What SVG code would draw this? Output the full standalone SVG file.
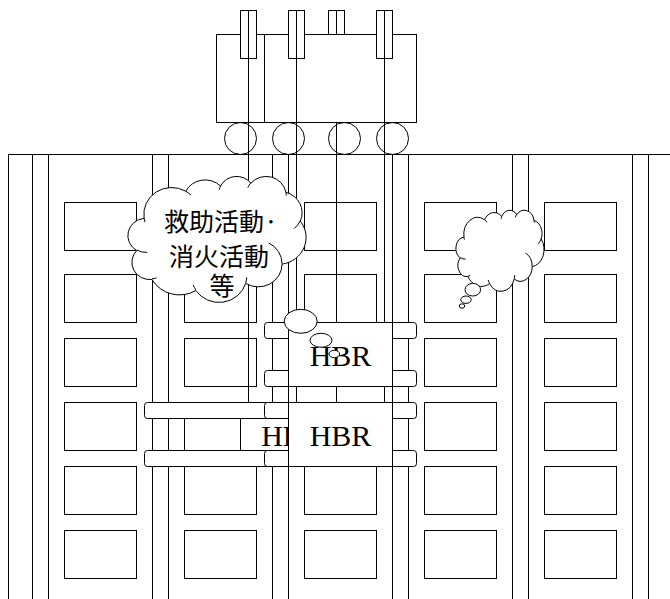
<svg xmlns="http://www.w3.org/2000/svg" width="670" height="599" viewBox="0 0 670 599">
  <defs>
    <style>
      .ln { stroke: #000; stroke-width: 1; fill: none; }
      .wb { stroke: #000; stroke-width: 1; fill: #fff; }
      .hbr { font-family: "Liberation Serif", "Times New Roman", serif; font-size: 30px; fill: #000; text-anchor: middle; }
      .jp { font-family: "Noto Sans CJK JP", "Noto Sans CJK SC", sans-serif; font-size: 25px; fill: #000; text-anchor: middle; }
    </style>
    <!-- cloud outline in a 43200 x 43200 box -->
    <path id="cloudShape" fill="#fff" stroke="#000" stroke-width="1" vector-effect="non-scaling-stroke" d="M3900 14370 A6753 9190 0 0 1 14005.5 5202.6 A5333 7267 0 0 1 22457.8 3432.8 A4365 5945 0 0 1 29835 2480.3 A4857 6595 0 0 1 38320.5 5575.2 A5333 7273 0 0 1 41820.9 15459.1 A6775 9220 0 0 1 37407.5 30203.1 A5785 7867 0 0 1 28558.9 36813.1 A6752 9215 0 0 1 16483.8 39265.7 A7720 10543 0 0 1 5807.3 35472.9 A4360 5918 0 0 1 2114.3 25553.8 A4345 5945 0 0 1 3864.8 14510.7 Z"/>
    <!-- inner crease arcs of the cloud -->
    <path id="cloudCreases" fill="none" stroke="#000" stroke-width="1" vector-effect="non-scaling-stroke" d="M4693 26177 A4345 5945 0 0 1 2159.2 25379.5 M6928 34899 A4360 5918 0 0 1 5819.5 35280.5 M16478 39090 A6752 9215 0 0 1 15809.7 37348.8 M28827 34751 A6752 9215 0 0 1 28560.5 36659.6 M34129 22954 A5785 7867 0 0 1 37380.6 30089.8 M41798 15354 A5333 7273 0 0 1 40349.1 18030.9 M38324 5426 A4857 6595 0 0 1 38400.4 6689.5 M29078 3952 A4857 6595 0 0 1 29818.9 2341.8 M22141 4720 A4365 5945 0 0 1 22499.9 3330.8 M14000 5192 A6753 9190 0 0 1 15301.6 6542.8 M4127 15789 A6753 9190 0 0 1 3900.4 14371.2"/>
    <!-- the back gondola is partly hidden by the front one -->
    <clipPath id="behindFront">
      <rect x="0" y="0" width="288" height="599"/>
    </clipPath>
  </defs>

  <rect width="670" height="599" fill="#fff"/>

  <!-- building facade -->
  <g id="building">
    <path class="ln" d="M8.5 154.5 H670 M8.5 154.5 V599
      M32.5 154.5 V599 M48.5 154.5 V599
      M152.5 154.5 V599 M168.5 154.5 V599
      M272.5 154.5 V599 M288.5 154.5 V599
      M392.5 154.5 V599 M408.5 154.5 V599
      M512.5 154.5 V599 M528.5 154.5 V599
      M632.5 154.5 V599 M648.5 154.5 V599"/>
    <g id="windows" class="ln">
      <rect x="64.5" y="202.5" width="72" height="48"/><rect x="184.5" y="202.5" width="72" height="48"/><rect x="304.5" y="202.5" width="72" height="48"/><rect x="424.5" y="202.5" width="72" height="48"/><rect x="544.5" y="202.5" width="72" height="48"/>
      <rect x="64.5" y="274.5" width="72" height="48"/><rect x="184.5" y="274.5" width="72" height="48"/><rect x="304.5" y="274.5" width="72" height="48"/><rect x="424.5" y="274.5" width="72" height="48"/><rect x="544.5" y="274.5" width="72" height="48"/>
      <rect x="64.5" y="338.5" width="72" height="48"/><rect x="184.5" y="338.5" width="72" height="48"/><rect x="304.5" y="338.5" width="72" height="48"/><rect x="424.5" y="338.5" width="72" height="48"/><rect x="544.5" y="338.5" width="72" height="48"/>
      <rect x="64.5" y="402.5" width="72" height="48"/><rect x="184.5" y="402.5" width="72" height="48"/><rect x="304.5" y="402.5" width="72" height="48"/><rect x="424.5" y="402.5" width="72" height="48"/><rect x="544.5" y="402.5" width="72" height="48"/>
      <rect x="64.5" y="466.5" width="72" height="48"/><rect x="184.5" y="466.5" width="72" height="48"/><rect x="304.5" y="466.5" width="72" height="48"/><rect x="424.5" y="466.5" width="72" height="48"/><rect x="544.5" y="466.5" width="72" height="48"/>
      <rect x="64.5" y="530.5" width="72" height="48"/><rect x="184.5" y="530.5" width="72" height="48"/><rect x="304.5" y="530.5" width="72" height="48"/><rect x="424.5" y="530.5" width="72" height="48"/><rect x="544.5" y="530.5" width="72" height="48"/>
    </g>
  </g>

  <!-- roof winch unit -->
  <g id="winch">
    <rect class="wb" x="216.5" y="34.5" width="48" height="88"/>
    <rect class="wb" x="264.5" y="34.5" width="152" height="88"/>
    <rect class="wb" x="240.5" y="10.5" width="16" height="48"/>
    <rect class="wb" x="288.5" y="10.5" width="16" height="48"/>
    <rect class="wb" x="328.5" y="10.5" width="16" height="24"/>
    <rect class="wb" x="376.5" y="10.5" width="16" height="48"/>
    <circle class="ln" cx="240.5" cy="138.5" r="16"/>
    <circle class="ln" cx="288.5" cy="138.5" r="16"/>
    <circle class="ln" cx="344.5" cy="138.5" r="16"/>
    <circle class="ln" cx="392.5" cy="138.5" r="16"/>
  </g>

  <!-- suspension wires -->
  <g id="wires" class="ln">
    <path d="M248.5 10.5 V402.5 M296.5 10.5 V402.5 M336.5 10.5 V34.5 M336.5 122.5 V402.5 M384.5 10.5 V402.5"/>
  </g>

  <!-- gondola behind, lower left -->
  <g id="hbr-lower-left">
    <rect class="wb" x="240.5" y="402.5" width="104" height="64"/>
    <text class="hbr" x="292" y="445.5" clip-path="url(#behindFront)">HBR</text>
    <rect class="wb" x="144.5" y="402.5" width="224" height="16" rx="3"/>
    <rect class="wb" x="144.5" y="450.5" width="224" height="16" rx="3"/>
  </g>

  <!-- gondola, lower right -->
  <g id="hbr-lower">
    <rect class="wb" x="264.5" y="402.5" width="152" height="16" rx="3"/>
    <rect class="wb" x="264.5" y="450.5" width="152" height="16" rx="3"/>
    <rect class="wb" x="288.5" y="402.5" width="104" height="64"/>
    <text class="hbr" x="340.5" y="445.5">HBR</text>
  </g>

  <!-- gondola, upper -->
  <g id="hbr-upper">
    <rect class="wb" x="264.5" y="322.5" width="152" height="16" rx="3"/>
    <rect class="wb" x="264.5" y="370.5" width="152" height="16" rx="3"/>
    <rect class="wb" x="288.5" y="322.5" width="104" height="64"/>
    <text class="hbr" x="340.5" y="366">HBR</text>
  </g>

  <!-- thought cloud with label -->
  <g id="cloud-rescue">
    <g transform="translate(128 176) scale(0.0041204 0.0029167)">
      <use href="#cloudShape"/>
      <use href="#cloudCreases"/>
    </g>
    <ellipse class="wb" cx="300.7" cy="321.3" rx="16.5" ry="12"/>
    <ellipse class="wb" cx="321" cy="340.3" rx="11" ry="7"/>
    <ellipse class="wb" cx="334.3" cy="354" rx="5.3" ry="3.7"/>
    <text class="jp" x="221" y="231">救助活動·</text>
    <text class="jp" x="219" y="266">消火活動</text>
    <text class="jp" x="222" y="295">等</text>
  </g>

  <!-- empty thought cloud -->
  <g id="cloud-empty">
    <g transform="translate(456 210) scale(0.002037 0.001875)">
      <use href="#cloudShape"/>
      <use href="#cloudCreases"/>
    </g>
    <ellipse class="wb" cx="472.8" cy="289.7" rx="7.8" ry="6.3"/>
    <ellipse class="wb" cx="466" cy="299.7" rx="5.2" ry="3.7"/>
    <ellipse class="wb" cx="462" cy="306" rx="2.7" ry="2.2"/>
  </g>
</svg>
